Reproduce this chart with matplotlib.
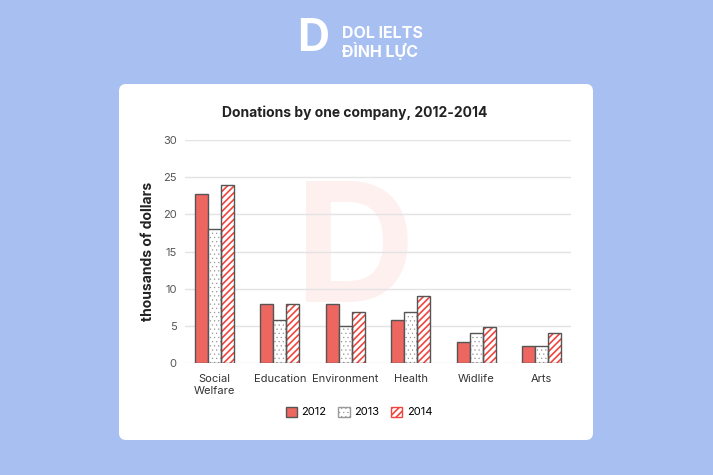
import matplotlib
matplotlib.use("Agg")
import matplotlib.pyplot as plt
from matplotlib.patches import FancyBboxPatch, Patch
import numpy as np

categories = ["Social\nWelfare", "Education", "Environment", "Health", "Widlife", "Arts"]
years = ["2012", "2013", "2014"]
v2012 = [22.7, 8, 8, 5.8, 2.8, 2.3]
v2013 = [18, 5.8, 5, 6.9, 4, 2.3]
v2014 = [24, 8, 6.9, 9, 4.9, 4]
yticks = [0, 5, 10, 15, 20, 25, 30]

plt.rcParams['font.family'] = ['Inter', 'DejaVu Sans']
plt.rcParams['hatch.linewidth'] = 1.2

W, H = 713, 475
fig = plt.figure(figsize=(W/100, H/100), dpi=100)
fig.patch.set_facecolor("#A8BFF1")

# background axes with white card
bg = fig.add_axes([0, 0, 1, 1], zorder=-10)
bg.set_xlim(0, W)
bg.set_ylim(H, 0)
bg.axis("off")
card = FancyBboxPatch((119, 84), 593-119, 440-84,
                      boxstyle="round,pad=0,rounding_size=7",
                      facecolor="white", edgecolor="none")
bg.add_patch(card)
# watermark
bg.text(355, 258, "D", color="#FDF0EF", fontsize=120, fontweight="bold", ha="center", va="center")

# logo
bg.text(313, 39, "D", color="white", fontsize=32, fontweight="bold", va="center", ha="center")
bg.text(342, 33, "DOL IELTS", color="white", fontsize=11.5, fontweight="bold", va="center", ha="left")
bg.text(342, 51, "ĐÌNH LỰC", color="white", fontsize=11.5, fontweight="bold", va="center", ha="left")

ax = fig.add_axes([185/W, 1-363/H, (571-185)/W, (363-140)/H])
ax.set_facecolor("none")

x = np.arange(len(categories))
w = 0.2
edge = "#555555"
dotcol = "#999999"


def thin_hatch(patches, lw=0.4):
    for p in patches:
        if hasattr(p, "set_hatch_linewidth"):
            p.set_hatch_linewidth(lw)


ax.bar(x - w, v2012, w, color="#EE6660", edgecolor=edge, linewidth=1, label=years[0], zorder=3)
with plt.rc_context({'hatch.linewidth': 0.4}):
    b2 = ax.bar(x, v2013, w, color="white", edgecolor=dotcol, hatch="....", linewidth=0, label=years[1], zorder=3)
thin_hatch(b2)
ax.bar(x, v2013, w, color="none", edgecolor=edge, linewidth=1, zorder=4)
ax.bar(x + w, v2014, w, color="white", edgecolor="#F0453F", hatch="/////", linewidth=0, label=years[2], zorder=3)
ax.bar(x + w, v2014, w, color="none", edgecolor=edge, linewidth=1, zorder=4)

ax.set_xlim(-0.45, 5.45)
ax.set_ylim(0, 30)
ax.set_yticks(yticks)
ax.set_xticks(x)
ax.set_xticklabels(categories, fontsize=8, color="#333333")
ax.tick_params(axis="y", labelsize=8, labelcolor="#555555", length=0, pad=6)
ax.tick_params(axis="x", length=0, pad=8)
ax.grid(axis="y", color="#E3E3E3", linewidth=1, zorder=0)
for s in ax.spines.values():
    s.set_visible(False)
ax.set_ylabel("thousands of dollars", fontsize=10, fontweight="bold", color="#222222", labelpad=6)

fig.text(355/W, 1-113/H, "Donations by one company, 2012-2014", fontsize=10, fontweight="bold",
         color="#222222", ha="center", va="center")

with plt.rc_context({'hatch.linewidth': 0.4}):
    h2 = Patch(facecolor="white", edgecolor=dotcol, hatch="....", label="2013")
thin_hatch([h2])
handles = [Patch(facecolor="#EE6660", edgecolor=edge, label="2012"),
           h2,
           Patch(facecolor="white", edgecolor="#F0453F", hatch="/////", label="2014")]
leg = fig.legend(handles=handles, loc="center", bbox_to_anchor=(359/W, 1-412/H), ncol=3, frameon=False,
                 fontsize=8, handlelength=1.0, handleheight=1.0, columnspacing=1.1, handletextpad=0.4)
for lp in leg.get_patches():
    if lp.get_hatch() == "....":
        thin_hatch([lp])
        lp.set_edgecolor(dotcol)

fig.savefig("out.png", dpi=100, facecolor=fig.get_facecolor())
